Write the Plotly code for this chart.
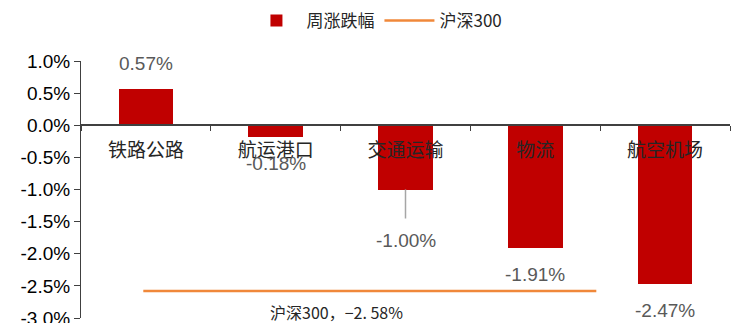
import plotly.graph_objects as go

categories = ["铁路公路", "航运港口", "交通运输", "物流", "航空机场"]
weekly_change = [0.57, -0.18, -1.00, -1.91, -2.47]
hs300_value = -2.58
hs300_span = [-0.02, 3.47]  # extent of the reference line, in category units
y_ticks = [1.0, 0.5, 0.0, -0.5, -1.0, -1.5, -2.0, -2.5, -3.0]
y_tick_text = [f"{v:.1f}%" for v in y_ticks]

BAR = "#C00000"
LINE = "#F0883A"
LABEL = "#595959"
AXIS = "#404040"
CJK = "Noto Sans CJK SC"
LATIN = "Liberation Sans, Arial"

fig = go.Figure()
fig.add_trace(go.Bar(
    x=categories, y=weekly_change, name="周涨跌幅",
    marker=dict(color=BAR, line=dict(width=0)), width=0.42,
))
fig.add_trace(go.Scatter(
    x=hs300_span, y=[hs300_value] * len(hs300_span), name="沪深300",
    mode="lines", line=dict(color=LINE, width=2.5), xaxis="x2",
))

# data labels
for i, v in enumerate(weekly_change):
    txt = f"{v:.2f}%"
    if i == 2:
        fig.add_annotation(x=categories[i], y=v, text=txt, showarrow=True,
                           arrowhead=0, arrowcolor="#A6A6A6", arrowwidth=1.5,
                           ax=0, ay=51, startstandoff=10, standoff=0,
                           font=dict(family=LATIN, size=19, color=LABEL))
    else:
        fig.add_annotation(x=categories[i], y=v, text=txt, showarrow=False,
                           yshift=25 if v > 0 else -27,
                           font=dict(family=LATIN, size=19, color=LABEL))

fig.add_annotation(x=1.47, y=hs300_value, xref="x2",
                   text=f"沪深300，−{abs(hs300_value):.2f}%".replace(".", ". "),
                   showarrow=False, yshift=-21,
                   font=dict(family=CJK, size=16, color="#262626"))

fig.update_layout(
    width=731, height=323,
    margin=dict(l=81, r=1, t=61, b=5),
    paper_bgcolor="white", plot_bgcolor="white",
    bargap=0,
    showlegend=True,
    legend=dict(orientation="h", x=0.456, xanchor="center", y=1.156, yanchor="middle",
                font=dict(family=CJK, size=17, color="#262626"), itemwidth=50,
                bgcolor="rgba(0,0,0,0)"),
    xaxis=dict(type="category", anchor="free", position=0.75, tickson="boundaries",
               ticks="outside", ticklen=5, tickcolor=AXIS, showline=True, linecolor=AXIS,
               linewidth=1.5, showgrid=False, zeroline=False, range=[-0.5, 4.5],
               ticklabelstandoff=8,
               tickfont=dict(family=CJK, size=19, color="#262626")),
    xaxis2=dict(overlaying="x", range=[-0.5, 4.5], visible=False),
    yaxis=dict(range=[-3.0, 1.0], tickmode="array", tickvals=y_ticks, ticktext=y_tick_text,
               ticks="outside", ticklen=6, tickcolor=AXIS, showline=True, linecolor=AXIS,
               linewidth=1, showgrid=False, zeroline=False, automargin=False,
               ticklabeloverflow="allow",
               tickfont=dict(family=LATIN, size=19, color="#000000")),
)

fig.write_html("out.html")
